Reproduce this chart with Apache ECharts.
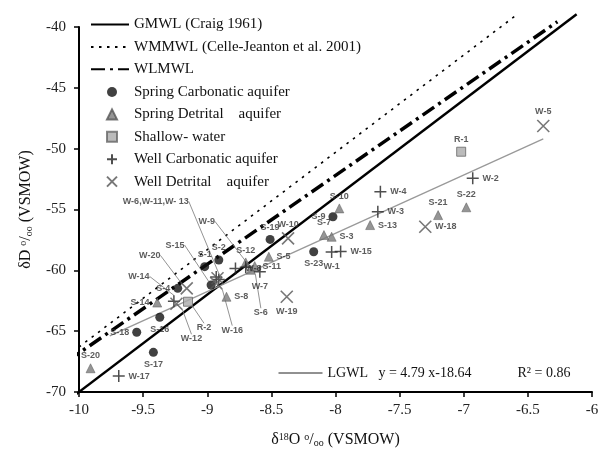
<!DOCTYPE html>
<html><head><meta charset="utf-8">
<script src="https://cdn.jsdelivr.net/npm/echarts@6/dist/echarts.min.js"></script>
<style>html,body{margin:0;padding:0;background:#fff}#c{width:602px;height:457px}</style>
</head><body><div id="c"></div>
<script>
// ---- data ----
const springCarbNames = ['S-1','S-2','S-4','S-9','S-15','S-16','S-17','S-18','S-19','S-23'];
const springCarbX = [-9.02,-8.91,-9.23,-8.02,-8.97,-9.37,-9.42,-9.55,-8.51,-8.17];
const springCarbY = [-59.70,-59.15,-61.48,-55.60,-61.21,-63.86,-66.74,-65.09,-57.46,-58.47];

const springDetrNames = ['S-3','S-5','S-6','S-7','S-8','S-10','S-11','S-12','S-13','S-14','S-20','S-21','S-22'];
const springDetrX = [-8.03,-8.52,-8.66,-8.09,-8.85,-7.97,-8.63,-8.70,-7.73,-9.39,-9.91,-7.20,-6.98];
const springDetrY = [-57.24,-58.88,-59.95,-57.10,-62.17,-54.91,-59.65,-59.35,-56.28,-62.65,-68.05,-55.46,-54.82];

const shallowNames = ['R-1','R-2'];
const shallowX = [-7.02,-9.15];
const shallowY = [-50.25,-62.58];

const wellCarbNames = ['W-1','W-2','W-3','W-4','W-6','W-7','W-8','W-9','W-13','W-14','W-15','W-17'];
const wellCarbX = [-8.03,-6.93,-7.67,-7.65,-8.93,-8.59,-8.78,-8.70,-8.91,-9.26,-7.96,-9.69];
const wellCarbY = [-58.50,-52.44,-55.18,-53.54,-60.55,-60.12,-59.84,-59.75,-60.75,-62.55,-58.45,-68.69];

const wellDetrNames = ['W-5','W-10','W-11','W-12','W-16','W-18','W-19','W-20'];
const wellDetrX = [-6.38,-8.37,-8.92,-9.24,-8.93,-7.30,-8.38,-9.16];
const wellDetrY = [-48.14,-57.37,-60.65,-62.75,-61.05,-56.42,-62.17,-61.48];

// meteoric water lines: slope, intercept, x extent
const gmwlLine  = {slope: 8,    intercept: 10,     xs: [-10.09, -6.12]};
const wmmwlLine = {slope: 8,    intercept: 13.7,   xs: [-10.1, -6.6]};
const wlmwlLine = {slope: 7.3,  intercept: 6.2,    xs: [-10.09, -6.27]};
const lgwlLine  = {slope: 4.79, intercept: -18.64, xs: [-9.76, -6.38]};

// ---- label placement (style, not data) ----
const labelSpec = {
 'W-5':['top',0,-1],'R-1':['top',-3,0],'W-2':['right',0,2],'W-4':['right',-1,-5],'W-3':['right',0,1],
 'S-21':['top',0,1],'S-22':['top',6,2],'S-13':['right',0,7],'W-18':['right',0,1],'S-10':['top',9,2],
 'S-9':['left',2,-2],'S-7':['top',-5,1],'S-3':['right',0,0],'W-15':['right',0,0],'W-1':['bottom',0,-2],
 'S-23':['bottom',-3,-2],'W-10':['top',6,2],'S-19':['top',-3,3],'S-5':['right',0,0],'S-11':['right',6,2],
 'S-12':['top',0,-2],'W-7':['bottom',3,-1],'W-19':['bottom',8,-1],'S-8':['right',0,0],'W-8':['right',-2,-1],
 'S-2':['top',0,1],'S-1':['top',-7,1],'S-4':['left',2,-5],'S-14':['left',3,-4],'S-16':['bottom',-8,-1],
 'S-18':['left',0,5],'S-17':['bottom',14,-2],'S-20':['top',4,3],'W-17':['right',-2,8]
};
const leaderSpec = {
 'W-13':[-63,-78,'W-6,W-11,W- 13'],'W-9':[-39,-46],'S-15':[-36,-40],'W-20':[-37,-33],'W-14':[-35,-25],
 'W-12':[15,35],'R-2':[16,26],'W-16':[16,47],'S-6':[10,43]
};

const labelFont = {fontFamily:'Liberation Sans', fontWeight:'bold', fontSize:9, color:'#333'};

function pts(names, xs, ys){
  return names.map((n,i)=>{
    const item = {name:n, value:[xs[i], ys[i]]};
    const L = leaderSpec[n], S = labelSpec[n];
    if (L){
      item.label = Object.assign({show:true, position:'inside', formatter: L[2] || n}, labelFont);
      item.labelLine = {show:true, lineStyle:{color:'#777', width:0.8}};
    } else if (S){
      item.label = Object.assign({show:true, position:S[0], distance:3, offset:[S[1],S[2]], formatter:n}, labelFont);
    } else {
      item.label = {show:false};
    }
    return item;
  });
}
function layoutFor(names){
  return function(p){
    const L = leaderSpec[names[p.dataIndex]];
    return L ? {dx:L[0], dy:L[1]} : {};
  };
}
function lineData(l){ return l.xs.map(x=>[x, l.slope*x + l.intercept]); }

const serif = 'Liberation Serif';
const chart = echarts.init(document.getElementById('c'), null, {renderer:'canvas'});
const scatterBase = {type:'scatter', z:5, symbolKeepAspect:true};
const noDot = {opacity:0};

chart.setOption({
  animation:false,
  backgroundColor:'#fff',
  grid:{left:79, right:10, top:27, bottom:65},
  xAxis:{
    type:'value', min:-10, max:-6, interval:0.5,
    axisLine:{onZero:false, lineStyle:{color:'#000', width:2}},
    axisTick:{show:true, length:5, lineStyle:{color:'#000', width:1.5}},
    axisLabel:{fontFamily:serif, fontSize:15, color:'#222', margin:11},
    splitLine:{show:false},
    name:'{t|δ}{sup|18}{t|O }{sup|o}{t|/}{sub|oo}{t| (VSMOW)}',
    nameLocation:'middle', nameGap:40,
    nameTextStyle:{fontFamily:serif, fontSize:16, color:'#111',
      rich:{t:{fontFamily:serif, fontSize:16, color:'#111'},
            sup:{fontFamily:serif, fontSize:10, color:'#111', verticalAlign:'top'},
            sub:{fontFamily:serif, fontSize:10, color:'#111', verticalAlign:'bottom'}}}
  },
  yAxis:{
    type:'value', min:-70, max:-40, interval:5,
    axisLine:{onZero:false, lineStyle:{color:'#000', width:2}},
    axisTick:{show:true, length:5, lineStyle:{color:'#000', width:1.5}},
    axisLabel:{fontFamily:serif, fontSize:15, color:'#222', margin:13},
    splitLine:{show:false},
    name:'{t|δD }{sup|o}{t|/}{sub|oo}{t| (VSMOW)}',
    nameLocation:'middle', nameGap:45, nameRotate:90,
    nameTextStyle:{fontFamily:serif, fontSize:16, color:'#111',
      rich:{t:{fontFamily:serif, fontSize:16, color:'#111'},
            sup:{fontFamily:serif, fontSize:10, color:'#111', verticalAlign:'top'},
            sub:{fontFamily:serif, fontSize:10, color:'#111', verticalAlign:'bottom'}}}
  },
  legend:[{
    orient:'vertical', left:85, top:12, itemWidth:38, itemHeight:10, itemGap:7.4,
    textStyle:{fontFamily:serif, fontSize:15, color:'#111'},
    data:[{name:'GMWL (Craig 1961)', itemStyle:noDot},
          {name:'WMMWL (Celle-Jeanton et al. 2001)', itemStyle:noDot},
          {name:'WLMWL', itemStyle:noDot}]
  },{
    orient:'vertical', left:101, top:79.5, itemWidth:10, itemHeight:10, itemGap:7.4,
    textStyle:{fontFamily:serif, fontSize:15, color:'#111', padding:[0,0,0,12]},
    data:['Spring Carbonatic aquifer','Spring Detrital    aquifer','Shallow- water',
          'Well Carbonatic aquifer','Well Detrital    aquifer']
  },{
    orient:'horizontal', left:273, top:361, itemWidth:44, itemHeight:10,
    textStyle:{fontFamily:serif, fontSize:14, color:'#111',
      rich:{a:{fontFamily:serif, fontSize:14, color:'#111', width:190}, b:{fontFamily:serif, fontSize:14, color:'#111'}}},
    data:[{name:'LGWL', itemStyle:noDot, lineStyle:{color:'#222', width:1}}],
    formatter:function(){ return '{a|LGWL   y = 4.79 x-18.64}{b|R² = 0.86}'; }
  }],
  series:[
    {name:'GMWL (Craig 1961)', type:'line', data:lineData(gmwlLine), symbol:'none', clip:false, z:2, silent:true,
     itemStyle:{color:'#000'}, lineStyle:{color:'#000', width:2.5}},
    {name:'WMMWL (Celle-Jeanton et al. 2001)', type:'line', data:lineData(wmmwlLine), symbol:'none', clip:false, z:2, silent:true,
     itemStyle:{color:'#000'}, lineStyle:{color:'#000', width:1.6, type:[2.5,5.5]}},
    {name:'WLMWL', type:'line', data:lineData(wlmwlLine), symbol:'none', clip:false, z:2, silent:true,
     itemStyle:{color:'#000'}, lineStyle:{color:'#000', width:3.5, type:[14,5,3,5]}},
    {name:'LGWL', type:'line', data:lineData(lgwlLine), symbol:'none', clip:false, z:2, silent:true,
     itemStyle:{color:'#999'}, lineStyle:{color:'#999', width:1.3}},
    Object.assign({}, scatterBase, {name:'Spring Carbonatic aquifer', symbol:'circle', symbolSize:9,
      itemStyle:{color:'#111'}, data:pts(springCarbNames, springCarbX, springCarbY),
      labelLayout:layoutFor(springCarbNames)}),
    Object.assign({}, scatterBase, {name:'Spring Detrital    aquifer', symbol:'triangle', symbolSize:9,
      itemStyle:{color:'#7a7a7a', borderColor:'#555', borderWidth:0.6}, data:pts(springDetrNames, springDetrX, springDetrY),
      labelLayout:layoutFor(springDetrNames)}),
    Object.assign({}, scatterBase, {name:'Shallow- water', symbol:'rect', symbolSize:9,
      itemStyle:{color:'#aaa', borderColor:'#666', borderWidth:1}, data:pts(shallowNames, shallowX, shallowY),
      labelLayout:layoutFor(shallowNames)}),
    Object.assign({}, scatterBase, {name:'Well Carbonatic aquifer', symbol:'path://M0,5L10,5M5,0L5,10', symbolSize:12,
      itemStyle:{color:'transparent', borderColor:'#222', borderWidth:1.5}, data:pts(wellCarbNames, wellCarbX, wellCarbY),
      labelLayout:layoutFor(wellCarbNames)}),
    Object.assign({}, scatterBase, {name:'Well Detrital    aquifer', symbol:'path://M0,0L10,10M10,0L0,10', symbolSize:12,
      itemStyle:{color:'transparent', borderColor:'#555', borderWidth:1.6}, data:pts(wellDetrNames, wellDetrX, wellDetrY),
      labelLayout:layoutFor(wellDetrNames)})
  ]
});
</script></body></html>
